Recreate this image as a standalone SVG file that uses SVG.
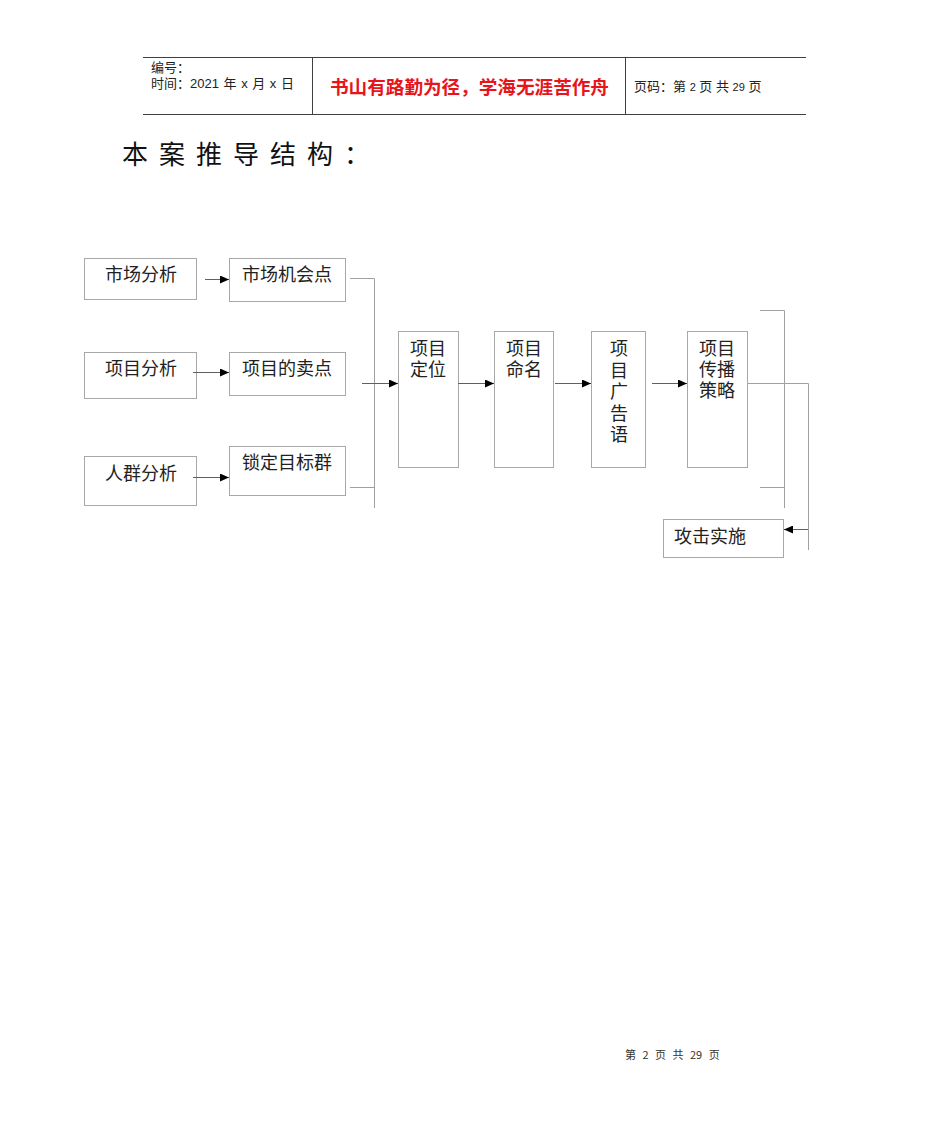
<svg xmlns="http://www.w3.org/2000/svg" width="950" height="1129" viewBox="0 0 950 1129">
<style>
.hd{stroke:#404040;stroke-width:1;fill:none}
.bx{fill:#fff;stroke:#a8a8a8;stroke-width:1}
.ln{stroke:#a0a0a0;stroke-width:1;fill:none}
.ar{stroke:#606060;stroke-width:1;fill:none;marker-end:url(#ah)}
.t{font-family:"Noto Sans CJK SC","Liberation Sans",sans-serif;font-size:18px;fill:#222}
.h{font-family:"Liberation Sans","Noto Sans CJK SC",sans-serif;font-size:13px;fill:#222}
</style>
<defs>
<marker id="ah" markerWidth="10" markerHeight="8" refX="9" refY="4" orient="auto" markerUnits="userSpaceOnUse">
<path d="M0,0 L9,4 L0,8 z" fill="#000"/>
</marker>
</defs>
<rect width="950" height="1129" fill="#fff"/>
<g id="header">
<line class="hd" x1="143" y1="57.5" x2="806" y2="57.5"/>
<line class="hd" x1="143" y1="114.5" x2="806" y2="114.5"/>
<line class="hd" x1="312.5" y1="57" x2="312.5" y2="114"/>
<line class="hd" x1="625.5" y1="57" x2="625.5" y2="114"/>
<text class="h" x="151" y="72">编号：</text>
<text class="h" x="151" y="88" word-spacing="1">时间：2021 年 x 月 x 日</text>
<text x="330" y="94" font-family="'Noto Sans CJK SC',sans-serif" font-size="18.6" font-weight="bold" fill="#e8141b">书山有路勤为径，学海无涯苦作舟</text>
<text class="h" x="634" y="91">页码：第 <tspan font-size="11">2</tspan> 页  共 <tspan font-size="11">29</tspan> 页</text>
</g>
<text x="122" y="164" font-family="'Noto Sans CJK SC',sans-serif" font-size="26" fill="#111" letter-spacing="11">本案推导结构：</text>
<g id="n1"><rect class="bx" x="84.5" y="258.5" width="112" height="41"/><text class="t" x="141" y="281" text-anchor="middle">市场分析</text></g>
<g id="n2"><rect class="bx" x="229.5" y="258.5" width="116" height="43"/><text class="t" x="287" y="281" text-anchor="middle">市场机会点</text></g>
<g id="n3"><rect class="bx" x="84.5" y="352.5" width="112" height="46"/><text class="t" x="141" y="375" text-anchor="middle">项目分析</text></g>
<g id="n4"><rect class="bx" x="229.5" y="352.5" width="116" height="43"/><text class="t" x="287" y="375" text-anchor="middle">项目的卖点</text></g>
<g id="n5"><rect class="bx" x="84.5" y="456.5" width="112" height="49"/><text class="t" x="141" y="480" text-anchor="middle">人群分析</text></g>
<g id="n6"><rect class="bx" x="229.5" y="446.5" width="116" height="49"/><text class="t" x="287" y="469" text-anchor="middle">锁定目标群</text></g>
<g id="n7"><rect class="bx" x="398.5" y="331.5" width="60" height="136"/><text class="t" x="410" y="355">项目<tspan x="410" dy="21">定位</tspan></text></g>
<g id="n8"><rect class="bx" x="494.5" y="331.5" width="59" height="136"/><text class="t" x="506" y="355">项目<tspan x="506" dy="21">命名</tspan></text></g>
<g id="n9"><rect class="bx" x="591.5" y="331.5" width="54" height="136"/><text class="t" x="619" y="355" text-anchor="middle">项<tspan x="619" dy="22">目</tspan><tspan x="619" dy="21">广</tspan><tspan x="619" dy="22">告</tspan><tspan x="619" dy="21">语</tspan></text></g>
<g id="n10"><rect class="bx" x="687.5" y="331.5" width="60" height="136"/><text class="t" x="699" y="355">项目<tspan x="699" dy="21">传播</tspan><tspan x="699" dy="21">策略</tspan></text></g>
<g id="n11"><rect class="bx" x="663.5" y="519.5" width="120" height="38"/><text class="t" x="674" y="543">攻击实施</text></g>
<g id="connectors">
<line class="ar" x1="205" y1="279.5" x2="229" y2="279.5"/>
<line class="ar" x1="193" y1="372.5" x2="229" y2="372.5"/>
<line class="ar" x1="193" y1="477.5" x2="229" y2="477.5"/>
<polyline class="ln" points="350,278.5 374.5,278.5 374.5,508"/>
<line class="ln" x1="350" y1="487.5" x2="374" y2="487.5"/>
<line class="ar" x1="362" y1="383.5" x2="398" y2="383.5"/>
<line class="ar" x1="458" y1="383.5" x2="494" y2="383.5"/>
<line class="ar" x1="555" y1="383.5" x2="591" y2="383.5"/>
<line class="ar" x1="652" y1="383.5" x2="687" y2="383.5"/>
<polyline class="ln" points="760,310.5 784.5,310.5 784.5,508"/>
<line class="ln" x1="760" y1="487.5" x2="784" y2="487.5"/>
<polyline class="ln" points="748,383.5 808.5,383.5 808.5,550"/>
<line class="ar" x1="808" y1="529.5" x2="784" y2="529.5"/>
</g>
<text x="625" y="1059" font-family="'Noto Sans CJK SC','Liberation Serif',serif" font-size="11" fill="#333" word-spacing="4">第 2 页 共 29 页</text>
</svg>
